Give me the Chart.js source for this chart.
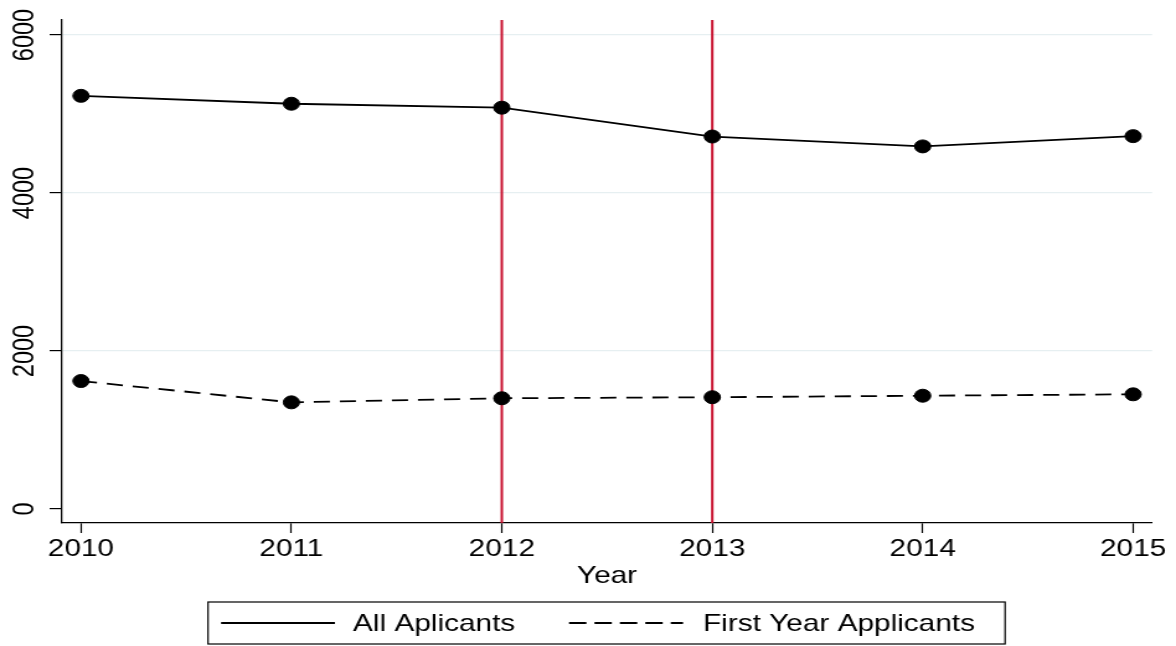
<!DOCTYPE html>
<html>
<head>
<meta charset="utf-8">
<script src="https://cdn.jsdelivr.net/npm/chart.js@4.4.1/dist/chart.umd.min.js"></script>
<style>
  html, body { margin: 0; padding: 0; background: #fff; overflow: hidden; }
  /* Stata export is stretched sideways; draw narrow and stretch to 1176 */
  #wrap { position: absolute; left: 0; top: 0; width: 948px; height: 646px;
          transform-origin: 0 0; transform: scaleX(1.24051); }
</style>
</head>
<body>
<div id="wrap"><canvas id="chart"></canvas></div>
<script>
(function () {
    'use strict';

    /* --- Data --- */
    var years         = [2010, 2011, 2012, 2013, 2014, 2015];
    var allApplicants = [5230, 5130, 5080, 4715, 4590, 4720];
    var firstYear     = [1620, 1350, 1402, 1415, 1434, 1452];
    var refYears      = [2012, 2013];
    var yTicks        = [0, 2000, 4000, 6000];
    var seriesLabels  = ['All Aplicants', 'First Year Applicants'];

    var font   = "'Liberation Sans', Arial, Helvetica, sans-serif";
    var black  = '#000000';
    var red    = '#c8102e';
    var gridC  = '#e6eff1';

    function points(vals) {
        return years.map(function (y, i) { return { x: y, y: vals[i] }; });
    }

    /* --- Red reference lines (under the data) --- */
    var refLines = {
        id: 'refLines',
        beforeDatasetsDraw: function (chart) {
            var ctx = chart.ctx, a = chart.chartArea, xs = chart.scales.x;
            ctx.save();
            ctx.strokeStyle = red;
            ctx.lineWidth = 2;
            refYears.forEach(function (yr) {
                var px = xs.getPixelForValue(yr);
                ctx.beginPath();
                ctx.moveTo(px, a.top);
                ctx.lineTo(px, a.bottom);
                ctx.stroke();
            });
            ctx.restore();
        }
    };

    /* --- Rotated y tick labels --- */
    var yLabels = {
        id: 'yLabels',
        afterDraw: function (chart) {
            var ctx = chart.ctx, ys = chart.scales.y;
            ctx.save();
            ctx.fillStyle = black;
            ctx.font = '23.5px ' + font;
            ctx.textAlign = 'center';
            ctx.textBaseline = 'middle';
            ys.ticks.forEach(function (t) {
                ctx.save();
                ctx.translate(21, ys.getPixelForValue(t.value));
                ctx.rotate(-Math.PI / 2);
                ctx.fillText(String(t.value), 0, 0);
                ctx.restore();
            });
            ctx.restore();
        }
    };

    /* --- Boxed legend, Stata style --- */
    var boxLegend = {
        id: 'boxLegend',
        afterDraw: function (chart) {
            var ctx = chart.ctx;
            var box = { l: 167.7, t: 602, r: 810.2, b: 644 };
            var cy = (box.t + box.b) / 2;
            ctx.save();
            ctx.strokeStyle = black;
            ctx.lineWidth = 1.2;
            ctx.strokeRect(box.l, box.t, box.r - box.l, box.b - box.t);

            var items = [
                { x0: 178.2, x1: 270.0, tx: 284.6 },
                { x0: 458.7, x1: 550.6, tx: 566.7 }
            ];
            ctx.font = '24px ' + font;
            ctx.fillStyle = black;
            ctx.textBaseline = 'middle';
            ctx.textAlign = 'left';
            items.forEach(function (it, i) {
                var ds = chart.data.datasets[i];
                ctx.lineWidth = 1.8;
                ctx.setLineDash(ds.borderDash ? [14, 6.5] : []);
                ctx.beginPath();
                ctx.moveTo(it.x0, cy);
                ctx.lineTo(it.x1, cy);
                ctx.stroke();
                ctx.setLineDash([]);
                ctx.fillText(ds.label, it.tx, cy + 1);
            });
            ctx.restore();
        }
    };

    new Chart(document.getElementById('chart'), {
        type: 'line',
        data: {
            datasets: [
                {
                    label: seriesLabels[0],
                    data: points(allApplicants),
                    borderColor: black,
                    borderWidth: 1.8,
                    pointRadius: 6.5,
                    pointBorderWidth: 1,
                    pointBackgroundColor: black,
                    pointBorderColor: black,
                    tension: 0
                },
                {
                    label: seriesLabels[1],
                    data: points(firstYear),
                    borderColor: black,
                    borderWidth: 1.8,
                    borderDash: [13, 8],
                    pointRadius: 6.5,
                    pointBorderWidth: 1,
                    pointBackgroundColor: black,
                    pointBorderColor: black,
                    tension: 0
                }
            ]
        },
        options: {
            responsive: true,
            maintainAspectRatio: false,
            animation: false,
            events: [],
            layout: { padding: { top: 20, right: 19.3, left: 0, bottom: 0 } },
            plugins: {
                legend: { display: false },
                tooltip: { enabled: false }
            },
            scales: {
                x: {
                    type: 'linear',
                    min: 2009.91,
                    max: 2015.09,
                    afterBuildTicks: function (s) {
                        s.ticks = years.map(function (v) { return { value: v }; });
                    },
                    afterFit: function (s) { s.height = 123; },
                    border: { color: black, width: 1.3 },
                    grid: { drawOnChartArea: false, drawTicks: true, tickLength: 10, tickColor: black, tickWidth: 1.2 },
                    ticks: {
                        padding: 2,
                        maxRotation: 0,
                        color: black,
                        font: { family: font, size: 24 },
                        callback: function (v) { return String(v); }
                    },
                    title: {
                        display: true,
                        text: 'Year',
                        color: black,
                        font: { family: font, size: 24 },
                        padding: { top: 0, bottom: 55 }
                    }
                },
                y: {
                    type: 'linear',
                    min: -177,
                    max: 6190,
                    afterBuildTicks: function (s) {
                        s.ticks = yTicks.map(function (v) { return { value: v }; });
                    },
                    afterFit: function (s) { s.width = 50; },
                    border: { color: black, width: 1.3 },
                    grid: {
                        drawTicks: true,
                        tickLength: 10,
                        tickColor: black,
                        tickWidth: 1.2,
                        lineWidth: 1.2,
                        color: function (c) { return c.tick && c.tick.value === 0 ? 'rgba(0,0,0,0)' : gridC; }
                    },
                    ticks: { display: false }
                }
            }
        },
        plugins: [refLines, yLabels, boxLegend]
    });
})();
</script>
</body>
</html>
